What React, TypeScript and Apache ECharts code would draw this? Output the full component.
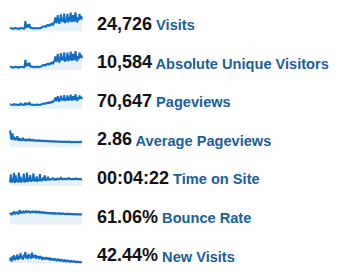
import React, { useEffect, useRef } from "react";
import * as echarts from "echarts";

const metricValues = ["24,726", "10,584", "70,647", "2.86", "00:04:22", "61.06%", "42.44%"];
const metricLabels = ["Visits", "Absolute Unique Visitors", "Pageviews", "Average Pageviews", "Time on Site", "Bounce Rate", "New Visits"];

const visits = [150, 170, 160, 140, 120, 165, 175, 160, 150, 170, 130, 115, 160, 175, 165, 155, 170, 140, 150,
  520, 260, 200, 350, 220, 380, 180, 170, 200,
  160, 150, 175, 165, 140, 170, 180, 160, 150, 175, 165, 185,
  230, 260, 240, 280, 210, 300, 320, 290, 340, 260, 380, 330, 420, 300, 440,
  480, 700, 420, 520, 820, 480, 390, 560, 860, 500, 650, 480, 900, 420, 600, 500, 880, 450, 720, 520, 940, 480,
  560, 820, 500, 680, 960, 540, 460, 700, 560, 880, 620, 760, 600];
const uniqueVisitors = [140, 160, 150, 130, 115, 155, 165, 150, 140, 160, 125, 110, 150, 165, 155, 145, 160, 130, 140,
  490, 250, 190, 330, 210, 360, 170, 160, 190,
  150, 140, 165, 155, 130, 160, 170, 150, 140, 165, 155, 175,
  215, 245, 225, 265, 200, 285, 300, 275, 320, 245, 360, 310, 395, 285, 415,
  455, 660, 400, 490, 780, 455, 370, 530, 815, 475, 615, 455, 850, 400, 570, 475, 835, 425, 680, 490, 890, 455,
  530, 780, 475, 645, 910, 510, 435, 665, 530, 835, 590, 720, 570];
const pageviews = [200, 215, 205, 190, 180, 240, 210, 200, 195, 215, 185, 175, 205, 280, 210, 200, 215, 190, 195,
  300, 230, 210, 260, 220, 330, 200, 195, 210,
  190, 185, 200, 195, 180, 205, 210, 195, 190, 205, 200, 215,
  240, 260, 250, 270, 230, 290, 300, 280, 320, 260, 350, 310, 380, 300, 400,
  420, 560, 380, 450, 620, 420, 360, 470, 650, 430, 520, 410, 680, 390, 500, 430, 660, 400, 560, 440, 700, 420,
  470, 620, 430, 540, 720, 460, 400, 560, 470, 660, 500, 600, 480];
const avgPageviews = [6.8, 4.5, 3.0, 5.6, 3.2, 4.2, 2.8, 3.8, 3.0, 4.4,
  3.2, 2.7, 3.6, 2.9, 3.3, 2.6, 3.8, 2.8, 3.1, 2.7, 3.4, 2.6, 3.0, 2.8, 3.5, 2.6, 2.9, 2.7, 3.2, 2.6,
  2.8, 2.6, 3.0, 2.5, 2.7, 2.6, 2.9, 2.5, 2.7, 2.6, 2.5, 2.7, 2.4, 2.6, 2.5, 2.4, 2.6, 2.5, 2.3, 2.5,
  2.4, 2.3, 2.5, 2.3, 2.4, 2.2, 2.4, 2.3, 2.2, 2.4, 2.3, 2.2, 2.3, 2.1, 2.3, 2.2, 2.1, 2.3, 2.2, 2.1,
  2.2, 2.1, 2.3, 2.2, 2.1, 2.2, 2.0, 2.2, 2.1, 2.0, 2.2, 2.1, 2.2, 2.0, 2.1, 2.2, 2.0, 2.1, 2.2, 2.1];
const timeOnSite = [130, 420, 120, 260, 140, 470, 110, 380, 150, 200, 125, 480, 140, 330, 120, 250, 160, 440, 130, 210,
  150, 480, 140, 300, 170, 390, 150, 220, 180, 450, 160, 260, 170, 340, 150, 230, 190, 420, 170, 250,
  180, 300, 200, 380, 190, 240, 210, 330, 200, 260,
  220, 250, 240, 300, 210, 240, 230, 260, 220, 280, 230, 250, 240, 320, 230, 250, 240, 260, 230, 270,
  240, 250, 260, 300, 240, 250, 230, 260, 240, 250, 230, 280, 240, 260, 230, 250, 240, 260, 230, 245];
const bounceRate = [50, 58, 47, 60, 52, 66, 50, 62, 57, 64, 50, 61, 72, 55, 64, 58, 68, 56, 66, 60, 70, 58, 67, 61, 69, 57, 66, 60, 68, 58,
  66, 59, 68, 57, 65, 60, 67, 56, 64, 58, 65, 55, 63, 57, 62, 54, 61, 56, 60, 53, 59, 55, 60, 52, 58, 54, 59, 51, 57, 53,
  58, 52, 57, 50, 56, 53, 57, 51, 55, 49, 56, 52, 54, 50, 55, 51, 54, 49, 53, 50, 54, 48, 53, 50, 52, 49, 53, 48, 52, 50];
const newVisits = [36, 44, 34, 47, 38, 50, 37, 46, 40, 52, 38, 48, 41, 55, 42, 46, 39, 51, 44, 58, 42, 50, 40, 53, 45, 49, 41, 56, 43, 50,
  45, 51, 41, 49, 44, 47, 40, 48, 42, 46, 38, 45, 41, 44, 39, 45, 40, 43, 38, 44, 37, 42, 39, 41, 36, 42, 37, 40, 35, 41,
  37, 39, 34, 40, 36, 38, 33, 39, 35, 37, 33, 38, 34, 36, 32, 37, 33, 35, 32, 36, 33, 34, 31, 35, 32, 34, 31, 33, 32, 33];

const seriesList = [visits, uniqueVisitors, pageviews, avgPageviews, timeOnSite, bounceRate, newVisits];
const yMins = [0, 0, 0, 0, 0, 0, 30];
const yMaxs = [1000, 960, 1000, 8, 720, 100, 80];

export default function App() {
  const ref = useRef<HTMLDivElement>(null);
  useEffect(() => {
    if (!ref.current) return;
    const chart = echarts.init(ref.current, undefined, { renderer: "svg" });
    const rowStart = 22.5;
    const rowStep = 38.6;
    const grids: any[] = [];
    const xAxes: any[] = [];
    const yAxes: any[] = [];
    const series: any[] = [];
    const graphics: any[] = [];
    seriesList.forEach((data, i) => {
      const c = rowStart + rowStep * i;
      grids.push({ left: 10, width: 72, top: c - 11, height: 20 });
      xAxes.push({ type: "category", gridIndex: i, show: false, boundaryGap: false, data: data.map((_, k) => k) });
      yAxes.push({ type: "value", gridIndex: i, show: false, min: yMins[i], max: yMaxs[i] });
      series.push({
        type: "line",
        xAxisIndex: i,
        yAxisIndex: i,
        data,
        symbol: "none",
        lineStyle: { color: "#106dc2", width: 2 },
        areaStyle: { color: "#e6f1fa", opacity: 1 },
        silent: true,
      });
      graphics.push({
        type: "text",
        x: 97,
        y: c,
        style: {
          text: `{n|${metricValues[i]}}{l| ${metricLabels[i]}}`,
          verticalAlign: "middle",
          rich: {
            n: { fontFamily: "Liberation Sans", fontWeight: "bold", fontSize: 18, fill: "#111111", verticalAlign: "bottom", lineHeight: 20 },
            l: { fontFamily: "Liberation Sans", fontWeight: "bold", fontSize: 14.6, fill: "#1a5e9c", verticalAlign: "bottom", lineHeight: 20 },
          },
        },
      });
    });
    chart.setOption({
      animation: false,
      grid: grids,
      xAxis: xAxes,
      yAxis: yAxes,
      series,
      graphic: graphics,
    });
    return () => chart.dispose();
  }, []);
  return <div ref={ref} style={{ position: "fixed", left: 0, top: 0, width: 340, height: 276, background: "#fff" }} />;
}
